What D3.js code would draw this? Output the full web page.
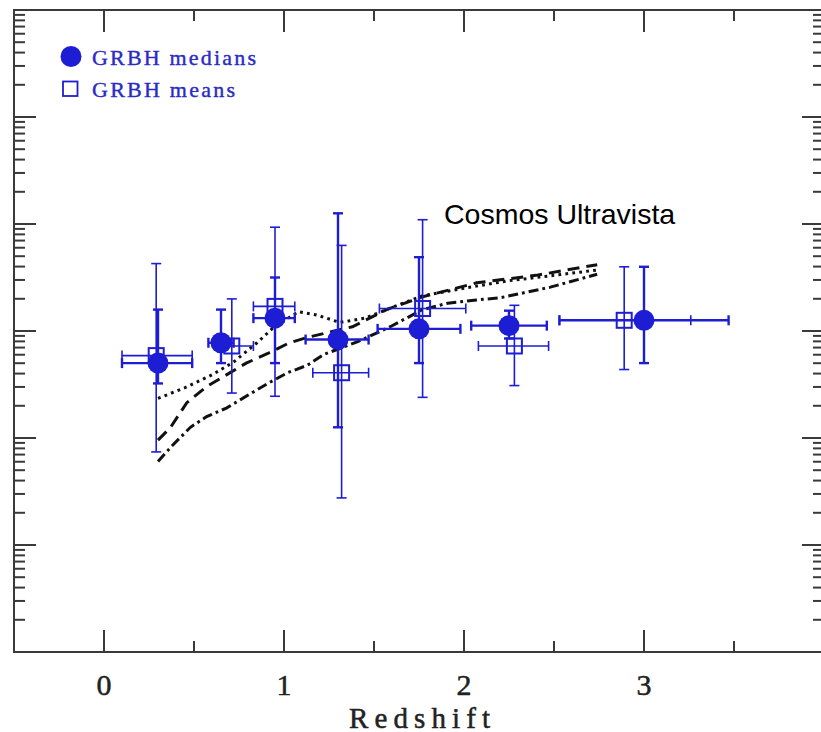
<!DOCTYPE html>
<html>
<head>
<meta charset="utf-8">
<script src="https://cdn.jsdelivr.net/npm/d3@7"></script>
<style>
  body { margin: 0; background: #fff; }
  svg { display: block; }
</style>
</head>
<body>
<svg id="chart" width="821" height="732"></svg>
<script>
// GRB host galaxies: medians per redshift bin (values are log10)
const medianZ   = [0.30, 0.65, 0.95, 1.30, 1.75, 2.25, 3.00];
const medianZLo = [0.10, 0.58, 0.83, 1.12, 1.52, 2.04, 2.53];
const medianZHi = [0.49, 0.72, 1.06, 1.47, 1.98, 2.46, 3.47];
const medianVal = [8.70, 8.89, 9.12, 8.92, 9.02, 9.05, 9.10];
const medianLo  = [8.51, 8.70, 8.70, 8.10, 8.70, 8.93, 8.70];
const medianHi  = [9.20, 9.20, 9.50, 10.10, 9.69, 9.19, 9.60];

// GRB host galaxies: means per redshift bin (values are log10)
const meanZ   = [0.29, 0.71, 0.95, 1.32, 1.77, 2.28, 2.89];
const meanZLo = [0.10, 0.62, 0.83, 1.16, 1.53, 2.08, 2.53];
const meanZHi = [0.49, 0.83, 1.06, 1.47, 2.01, 2.47, 3.26];
const meanVal = [8.77, 8.86, 9.23, 8.61, 9.21, 8.86, 9.10];
const meanLo  = [7.87, 8.42, 8.39, 7.44, 8.38, 8.49, 8.64];
const meanHi  = [9.63, 9.30, 9.97, 9.80, 10.04, 9.24, 9.60];

// Cosmos Ultravista comparison curves (redshift, log10 value)
const dottedZ   = [0.30, 0.45, 0.60, 0.72, 0.85, 0.94, 1.08, 1.18, 1.31, 1.45, 1.60, 1.77, 2.00, 2.25, 2.50, 2.74];
const dottedVal = [8.37, 8.47, 8.59, 8.71, 8.89, 9.03, 9.18, 9.15, 9.08, 9.12, 9.22, 9.33, 9.40, 9.47, 9.52, 9.57];

const dashedZ   = [0.30, 0.37, 0.46, 0.57, 0.68, 0.79, 0.91, 1.03, 1.13, 1.38, 1.57, 1.77, 2.07, 2.40, 2.74];
const dashedVal = [7.98, 8.10, 8.33, 8.48, 8.59, 8.70, 8.79, 8.89, 8.94, 9.04, 9.20, 9.32, 9.45, 9.52, 9.62];

const dashDotZ   = [0.30, 0.38, 0.48, 0.57, 0.68, 0.77, 0.91, 1.02, 1.13, 1.22, 1.41, 1.59, 1.77, 1.91, 2.07, 2.20, 2.48, 2.74];
const dashDotVal = [7.78, 7.93, 8.10, 8.20, 8.28, 8.37, 8.51, 8.61, 8.68, 8.78, 8.90, 9.04, 9.20, 9.26, 9.29, 9.31, 9.41, 9.53];

// Axis ticks
const xMajorTicks = [0, 1, 2, 3, 4];
const xMinorTicks = [0.5, 1.5, 2.5, 3.5];
const xTickLabels = ["0", "1", "2", "3"];
const xTitle = "Redshift";

const legendLabels = ["GRBH medians", "GRBH means"];
const curveLabel = "Cosmos Ultravista";

const BLUE = "#1d1dd3";
const FRAME = "#3a3a3a";

const svg = d3.select("#chart");

const x = d3.scaleLinear().domain([-0.5, 4]).range([14, 824]);
const y = d3.scaleLog().domain([1e6, 1e12]).range([652, 10]);
const yv = v => y(Math.pow(10, v));

// frame
const [x0, x1] = x.range();
const [yb, yt] = y.range();
svg.append("rect")
  .attr("x", x0).attr("y", yt)
  .attr("width", x1 - x0).attr("height", yb - yt)
  .attr("fill", "none").attr("stroke", FRAME).attr("stroke-width", 2);

// x ticks on bottom and top
const ticks = svg.append("g").attr("stroke", FRAME).attr("stroke-width", 2);
const MAJ = 22, MIN = 11;
xMajorTicks.forEach(t => {
  ticks.append("line").attr("x1", x(t)).attr("x2", x(t)).attr("y1", yb).attr("y2", yb - MAJ);
  ticks.append("line").attr("x1", x(t)).attr("x2", x(t)).attr("y1", yt).attr("y2", yt + MAJ);
});
xMinorTicks.forEach(t => {
  ticks.append("line").attr("x1", x(t)).attr("x2", x(t)).attr("y1", yb).attr("y2", yb - MIN);
  ticks.append("line").attr("x1", x(t)).attr("x2", x(t)).attr("y1", yt).attr("y2", yt + MIN);
});

// logarithmic y ticks on left and right
y.ticks().forEach(v => {
  const lg = Math.log10(v);
  const major = Math.abs(lg - Math.round(lg)) < 1e-9;
  const len = major ? MAJ : MIN;
  const yy = y(v);
  ticks.append("line").attr("x1", x0).attr("x2", x0 + len).attr("y1", yy).attr("y2", yy);
  ticks.append("line").attr("x1", x1).attr("x2", x1 - len).attr("y1", yy).attr("y2", yy);
});

// x tick labels and title
const serif = "'Liberation Serif', 'DejaVu Serif', serif";
svg.append("g").selectAll("text").data(xTickLabels).join("text")
  .attr("x", (d, i) => x(xMajorTicks[i]))
  .attr("y", 695)
  .attr("text-anchor", "middle")
  .attr("font-family", serif).attr("font-size", 30)
  .attr("fill", "#222").attr("stroke", "#222").attr("stroke-width", 0.5)
  .text(d => d);

svg.append("text")
  .attr("x", 349).attr("y", 727.5)
  .attr("font-family", serif).attr("font-size", 29)
  .attr("textLength", 141).attr("lengthAdjust", "spacing")
  .attr("fill", "#222").attr("stroke", "#222").attr("stroke-width", 0.5)
  .text(xTitle);

// comparison curves
const line = d3.line().x(d => x(d[0])).y(d => yv(d[1]));
const curveGroup = svg.append("g").attr("fill", "none").attr("stroke", "#111")
  .attr("stroke-width", 3).attr("stroke-linecap", "butt");
curveGroup.append("path")
  .attr("d", line(d3.zip(dottedZ, dottedVal)))
  .attr("stroke-dasharray", "2.8,4.2");
curveGroup.append("path")
  .attr("d", line(d3.zip(dashedZ, dashedVal)))
  .attr("stroke-dasharray", "12,7");
curveGroup.append("path")
  .attr("d", line(d3.zip(dashDotZ, dashDotVal)))
  .attr("stroke-dasharray", "10,4,2.8,4");

svg.append("text")
  .attr("x", 444).attr("y", 224)
  .attr("font-family", "'Liberation Sans', Arial, sans-serif")
  .attr("font-size", 28.5)
  .attr("fill", "#000")
  .text(curveLabel);

// error bars
function errorBars(g, zs, zlo, zhi, vals, lo, hi, width) {
  const CAP = 5;
  zs.forEach((z, i) => {
    const cx = x(z), cy = yv(vals[i]);
    const ylo = yv(lo[i]), yhi = yv(hi[i]);
    const xl = x(zlo[i]), xr = x(zhi[i]);
    g.append("line").attr("x1", cx).attr("x2", cx).attr("y1", ylo).attr("y2", yhi);
    g.append("line").attr("x1", cx - CAP).attr("x2", cx + CAP).attr("y1", ylo).attr("y2", ylo);
    g.append("line").attr("x1", cx - CAP).attr("x2", cx + CAP).attr("y1", yhi).attr("y2", yhi);
    g.append("line").attr("x1", xl).attr("x2", xr).attr("y1", cy).attr("y2", cy);
    g.append("line").attr("x1", xl).attr("x2", xl).attr("y1", cy - CAP).attr("y2", cy + CAP);
    g.append("line").attr("x1", xr).attr("x2", xr).attr("y1", cy - CAP).attr("y2", cy + CAP);
  });
  g.attr("stroke", BLUE).attr("stroke-width", width);
}

errorBars(svg.append("g"), meanZ, meanZLo, meanZHi, meanVal, meanLo, meanHi, 1.6);
errorBars(svg.append("g"), medianZ, medianZLo, medianZHi, medianVal, medianLo, medianHi, 2.4);

// means: open squares
const SQ = 15;
svg.append("g").selectAll("rect").data(d3.zip(meanZ, meanVal)).join("rect")
  .attr("x", d => x(d[0]) - SQ / 2)
  .attr("y", d => yv(d[1]) - SQ / 2)
  .attr("width", SQ).attr("height", SQ)
  .attr("fill", "none").attr("stroke", BLUE).attr("stroke-width", 2);

// medians: filled circles
svg.append("g").selectAll("circle").data(d3.zip(medianZ, medianVal)).join("circle")
  .attr("cx", d => x(d[0]))
  .attr("cy", d => yv(d[1]))
  .attr("r", 10.5)
  .attr("fill", BLUE);

// legend
const legend = svg.append("g");
legend.append("circle").attr("cx", 71).attr("cy", 56.5).attr("r", 10.5).attr("fill", BLUE);
legend.append("rect").attr("x", 63).attr("y", 81.5).attr("width", 14.5).attr("height", 14.5)
  .attr("fill", "none").attr("stroke", BLUE).attr("stroke-width", 1.8);
legend.append("text")
  .attr("x", 92).attr("y", 65)
  .attr("font-family", serif).attr("font-size", 22)
  .attr("textLength", 164).attr("lengthAdjust", "spacing")
  .attr("fill", "#2b2bc4").attr("stroke", "#2b2bc4").attr("stroke-width", 0.4)
  .text(legendLabels[0]);
legend.append("text")
  .attr("x", 92).attr("y", 96.5)
  .attr("font-family", serif).attr("font-size", 22)
  .attr("textLength", 143).attr("lengthAdjust", "spacing")
  .attr("fill", "#2b2bc4").attr("stroke", "#2b2bc4").attr("stroke-width", 0.4)
  .text(legendLabels[1]);
</script>
</body>
</html>
